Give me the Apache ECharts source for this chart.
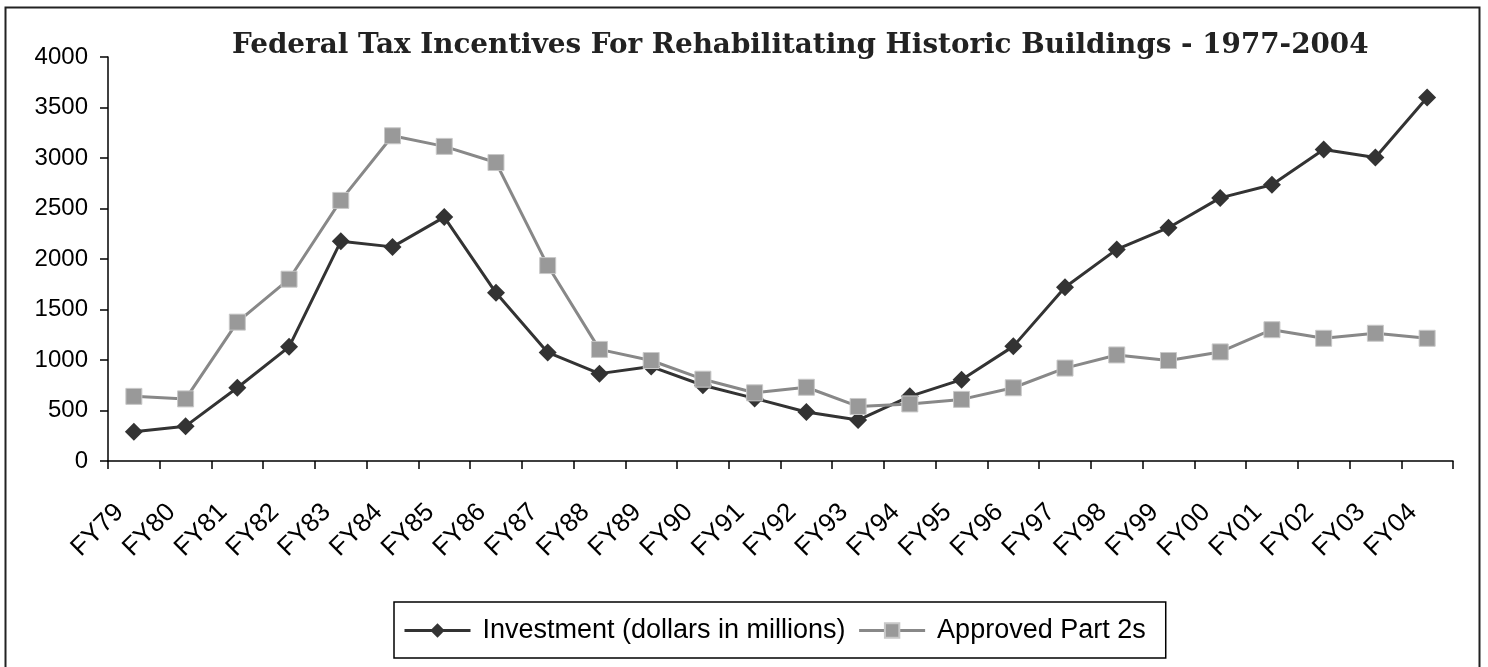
<!DOCTYPE html>
<html>
<head>
<meta charset="utf-8">
<script src="https://cdn.jsdelivr.net/npm/echarts@6/dist/echarts.min.js"></script>
<style>
html,body{margin:0;padding:0;background:#fff;}
#chart{width:1488px;height:667px;}
</style>
</head>
<body>
<div id="chart"></div>
<script>
const titleText = 'Federal Tax Incentives For Rehabilitating Historic Buildings - 1977-2004';
const categories = ['FY79','FY80','FY81','FY82','FY83','FY84','FY85','FY86','FY87','FY88','FY89','FY90','FY91','FY92','FY93','FY94','FY95','FY96','FY97','FY98','FY99','FY00','FY01','FY02','FY03','FY04'];
const investment = [290,345,725,1130,2175,2120,2415,1665,1075,865,935,750,620,485,405,640,805,1135,1720,2095,2310,2605,2735,3085,3005,3600];
const approvedPart2s = [640,615,1375,1800,2580,3220,3115,2955,1935,1105,995,810,675,730,540,565,610,725,920,1050,995,1080,1300,1215,1265,1215];
const seriesNames = ['Investment (dollars in millions)','Approved Part 2s'];
const yTicks = {min:0, max:4000, interval:500};

const chart = echarts.init(document.getElementById('chart'), null, {renderer:'canvas'});
chart.setOption({
  animation:false,
  backgroundColor:'#fff',
  title:{
    text:titleText,
    left:232, top:32, padding:0,
    textStyle:{fontFamily:'DejaVu Serif', fontWeight:'bold', fontSize:27.8, color:'#222'}
  },
  graphic:[{
    type:'rect', silent:true, z:-1,
    shape:{x:5.5, y:7.5, width:1474, height:700},
    style:{fill:'none', stroke:'#222', lineWidth:2}
  }],
  grid:{left:108, right:35, top:57, bottom:206, containLabel:false},
  legend:{
    left:394, top:602,
    padding:[15,20,14,9],
    borderColor:'#000', borderWidth:1.5,
    itemWidth:66, itemHeight:18, itemGap:12,
    lineStyle:{width:3},
    textStyle:{fontFamily:'Liberation Sans', fontSize:27, color:'#000', padding:[0,0,0,7]},
    data:seriesNames
  },
  xAxis:{
    type:'category',
    data:categories,
    boundaryGap:true,
    axisLine:{show:true, lineStyle:{color:'#000', width:1.5}},
    axisTick:{show:true, length:8, alignWithLabel:false, lineStyle:{color:'#000', width:1.5}},
    axisLabel:{rotate:45, margin:33, padding:[0,20,0,0], fontFamily:'Liberation Sans', fontSize:26, color:'#000', interval:0},
    splitLine:{show:false}
  },
  yAxis:{
    type:'value',
    min:yTicks.min, max:yTicks.max, interval:yTicks.interval,
    axisLine:{show:true, lineStyle:{color:'#000', width:1.5}},
    axisTick:{show:true, length:8, lineStyle:{color:'#000', width:1.5}},
    axisLabel:{margin:20, fontFamily:'Liberation Sans', fontSize:24, color:'#000', formatter:function(v){return String(v);}},
    splitLine:{show:false}
  },
  series:[
    {
      name:seriesNames[0], type:'line', data:investment, z:2,
      symbol:'diamond', symbolSize:[18,18],
      lineStyle:{color:'#333', width:3},
      itemStyle:{color:'#333', borderColor:'#333', borderWidth:0}
    },
    {
      name:seriesNames[1], type:'line', data:approvedPart2s, z:3,
      symbol:'rect', symbolSize:16,
      lineStyle:{color:'#888', width:3},
      itemStyle:{color:'#999', borderColor:'#c8c8c8', borderWidth:1}
    }
  ]
});
</script>
</body>
</html>
